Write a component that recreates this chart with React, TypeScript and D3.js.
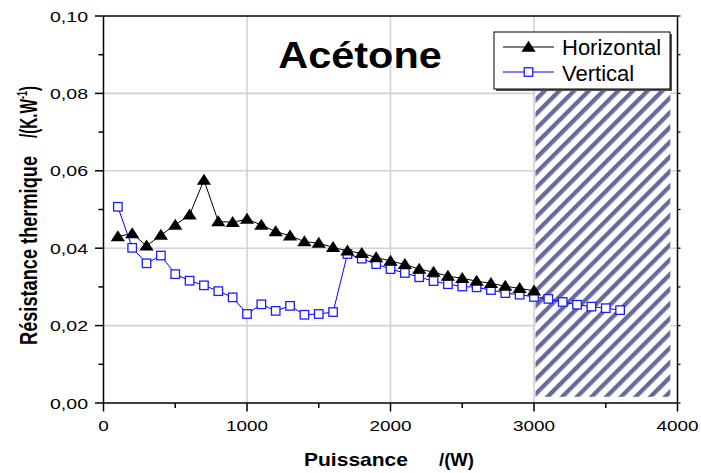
import React from "react";
import * as d3 from "d3";

// Heat-pipe thermal resistance versus heating power, acetone filling
const powerHorizontal = [
  100, 200, 300, 400, 500, 600, 700, 800, 900, 1000,
  1100, 1200, 1300, 1400, 1500, 1600, 1700, 1800, 1900, 2000,
  2100, 2200, 2300, 2400, 2500, 2600, 2700, 2800, 2900, 3000,
];
const resistHorizontal = [
  0.0430, 0.0438, 0.0406, 0.0434, 0.0460, 0.0486, 0.0576, 0.0469, 0.0467, 0.0475,
  0.0460, 0.0443, 0.0432, 0.0417, 0.0413, 0.0402, 0.0393, 0.0387, 0.0376, 0.0367,
  0.0358, 0.0346, 0.0338, 0.0328, 0.0322, 0.0315, 0.0309, 0.0302, 0.0296, 0.0290,
];

const powerVertical = [
  100, 200, 300, 400, 500, 600, 700, 800, 900, 1000,
  1100, 1200, 1300, 1400, 1500, 1600, 1700, 1800, 1900, 2000,
  2100, 2200, 2300, 2400, 2500, 2600, 2700, 2800, 2900, 3000,
  3100, 3200, 3300, 3400, 3500, 3600,
];
const resistVertical = [
  0.0507, 0.0401, 0.0361, 0.0381, 0.0333, 0.0316, 0.0304, 0.0289, 0.0273, 0.0230,
  0.0255, 0.0238, 0.0251, 0.0228, 0.0230, 0.0235, 0.0385, 0.0373, 0.0359, 0.0346,
  0.0336, 0.0325, 0.0315, 0.0307, 0.0301, 0.0299, 0.0292, 0.0284, 0.0280, 0.0274,
  0.0269, 0.0261, 0.0254, 0.0249, 0.0245, 0.0240,
];

const xMajorTicks = [0, 1000, 2000, 3000, 4000];
const xMinorTicks = [500, 1500, 2500, 3500];
const yMajorTicks = [0, 0.02, 0.04, 0.06, 0.08, 0.1];
const yMinorTicks = [0.01, 0.03, 0.05, 0.07, 0.09];
const xGrid = [1000, 2000, 3000];
const yGrid = [0.02, 0.04, 0.06, 0.08];

// Shaded zone beyond the operating limit
const limitZone = { fromPower: 3000, toPower: 3950, upTo: 0.081, downTo: 0.0016 };

const seriesNames = ["Horizontal", "Vertical"];
const titleText = "Acétone";

const W = 701;
const H = 473;
const FONT = "'Liberation Sans', Arial, Helvetica, sans-serif";

export default function App() {
  const x = d3.scaleLinear().domain([0, 4000]).range([103.5, 677.5]);
  const y = d3.scaleLinear().domain([0, 0.1]).range([403, 16]);
  const fmtY = (v: number) => d3.format(".2f")(v).replace(".", ",");

  const line = d3
    .line<[number, number]>()
    .x((d) => x(d[0]))
    .y((d) => y(d[1]));

  const hData = powerHorizontal.map((p, i) => [p, resistHorizontal[i]] as [number, number]);
  const vData = powerVertical.map((p, i) => [p, resistVertical[i]] as [number, number]);

  const tri = d3.symbol().type(d3.symbolTriangle).size(70)();
  const sq = 8.5;

  const [x0, x1] = x.range();
  const [yb, yt] = y.range();

  return (
    <svg
      width={W}
      height={H}
      viewBox={`0 0 ${W} ${H}`}
      style={{ position: "absolute", left: 0, top: 0, background: "#fff" }}
      fontFamily={FONT}
    >
      <defs>
        <pattern
          id="hatch"
          patternUnits="userSpaceOnUse"
          width={10.4}
          height={20}
          patternTransform="rotate(45)"
        >
          <rect x={0} y={0} width={10.4} height={20} fill="#ffffff" />
          <rect x={0} y={0} width={4.3} height={20} fill="#666a9d" />
        </pattern>
        <filter id="soft" x="-5%" y="-5%" width="110%" height="110%">
          <feGaussianBlur stdDeviation={0.5} />
        </filter>
      </defs>

      <rect x={0} y={0} width={W} height={H} fill="#fff" />

      {/* grid */}
      {xGrid.map((v) => (
        <line key={"gx" + v} x1={x(v)} x2={x(v)} y1={yt} y2={yb} stroke="#d2d2d2" strokeWidth={1.6} />
      ))}
      {yGrid.map((v) => (
        <line key={"gy" + v} x1={x0} x2={x1} y1={y(v)} y2={y(v)} stroke="#d2d2d2" strokeWidth={1.6} />
      ))}

      {/* hatched zone */}
      <rect
        x={x(limitZone.fromPower) + 1.5}
        y={y(limitZone.upTo)}
        width={x(limitZone.toPower) - x(limitZone.fromPower) - 1.5}
        height={y(limitZone.downTo) - y(limitZone.upTo)}
        fill="url(#hatch)"
        filter="url(#soft)"
      />

      {/* series lines */}
      <path d={line(hData) ?? ""} fill="none" stroke="#000" strokeWidth={1} />
      <path d={line(vData) ?? ""} fill="none" stroke="#0000ff" strokeWidth={1} />

      {/* markers */}
      {vData.map((d, i) => (
        <rect
          key={"v" + i}
          x={x(d[0]) - sq / 2}
          y={y(d[1]) - sq / 2}
          width={sq}
          height={sq}
          fill="#fff"
          stroke="#1c1cff"
          strokeWidth={1.3}
        />
      ))}
      {hData.map((d, i) => (
        <path key={"h" + i} d={tri ?? ""} transform={`translate(${x(d[0])},${y(d[1]) + 1}) scale(1.12,1)`} fill="#000" />
      ))}

      {/* frame */}
      <line x1={x0} x2={x1} y1={yt} y2={yt} stroke="#000" strokeWidth={1.5} />
      <line x1={x1} x2={x1} y1={yt} y2={yb} stroke="#000" strokeWidth={1.5} />
      <line x1={x0} x2={x1} y1={yb} y2={yb} stroke="#000" strokeWidth={1.5} />
      <line x1={x0} x2={x0} y1={yt} y2={yb} stroke="#000" strokeWidth={1.5} />

      {/* left axis ticks and labels */}
      {yMajorTicks.map((v) => (
        <g key={"ym" + v}>
          <line x1={x0 - 8.5} x2={x0} y1={y(v)} y2={y(v)} stroke="#000" strokeWidth={1.5} />
          <text
            transform={`translate(88,${y(v) + 5.5}) scale(1.26,1)`}
            textAnchor="end"
            fontSize={15.5}
            fill="#000"
          >
            {fmtY(v)}
          </text>
        </g>
      ))}
      {yMinorTicks.map((v) => (
        <line key={"yn" + v} x1={x0 - 5} x2={x0} y1={y(v)} y2={y(v)} stroke="#000" strokeWidth={1.5} />
      ))}
      {/* right axis ticks */}
      {[...yMajorTicks, ...yMinorTicks].map((v) => (
        <line key={"yr" + v} x1={x1} x2={x1 + 3} y1={y(v)} y2={y(v)} stroke="#000" strokeWidth={1.2} />
      ))}

      {/* bottom axis ticks and labels */}
      {xMajorTicks.map((v) => (
        <g key={"xm" + v}>
          <line x1={x(v)} x2={x(v)} y1={yb} y2={yb + 8.5} stroke="#000" strokeWidth={1.5} />
          <text
            transform={`translate(${x(v)},431) scale(1.22,1)`}
            textAnchor="middle"
            fontSize={15.5}
            fill="#000"
          >
            {String(v)}
          </text>
        </g>
      ))}
      {xMinorTicks.map((v) => (
        <line key={"xn" + v} x1={x(v)} x2={x(v)} y1={yb} y2={yb + 5} stroke="#000" strokeWidth={1.5} />
      ))}

      {/* axis titles */}
      <text x={304} y={466} fontSize={19} fontWeight="bold" textLength={104} lengthAdjust="spacingAndGlyphs">
        Puissance
      </text>
      <text x={439} y={466} fontSize={19} fontWeight="bold" textLength={35} lengthAdjust="spacingAndGlyphs">
        /(W)
      </text>

      <g transform="translate(37,345) rotate(-90) scale(1,1.3)" fontWeight="bold" fontSize={19}>
        <text x={0} y={0} textLength={189} lengthAdjust="spacingAndGlyphs">
          Résistance thermique
        </text>
        <text x={207} y={0} textLength={52} lengthAdjust="spacingAndGlyphs">
          /(K.W
          <tspan fontSize={11} dy={-8}>-1</tspan>
          <tspan dy={8}>)</tspan>
        </text>
      </g>

      {/* title */}
      <text
        transform="translate(360,68) scale(1.12,1)"
        textAnchor="middle"
        fontSize={37}
        fontWeight="bold"
        fill="#000"
      >
        {titleText}
      </text>

      {/* legend */}
      <g>
        <rect x={496} y={34} width={176} height={57} fill="#555" />
        <rect x={494} y={32} width={176} height={57} fill="#fff" stroke="#000" strokeWidth={1} />
        <line x1={503} x2={554} y1={47} y2={47} stroke="#000" strokeWidth={1} />
        <path d={tri ?? ""} transform="translate(528.5,48) scale(1.12,1)" fill="#000" />
        <text x={562} y={55} fontSize={22} fill="#000">
          {seriesNames[0]}
        </text>
        <line x1={503} x2={554} y1={72} y2={72} stroke="#0000ff" strokeWidth={1} />
        <rect x={528.5 - sq / 2} y={72 - sq / 2} width={sq} height={sq} fill="#fff" stroke="#1c1cff" strokeWidth={1.3} />
        <text x={562} y={80.5} fontSize={22} fill="#000">
          {seriesNames[1]}
        </text>
      </g>
    </svg>
  );
}
